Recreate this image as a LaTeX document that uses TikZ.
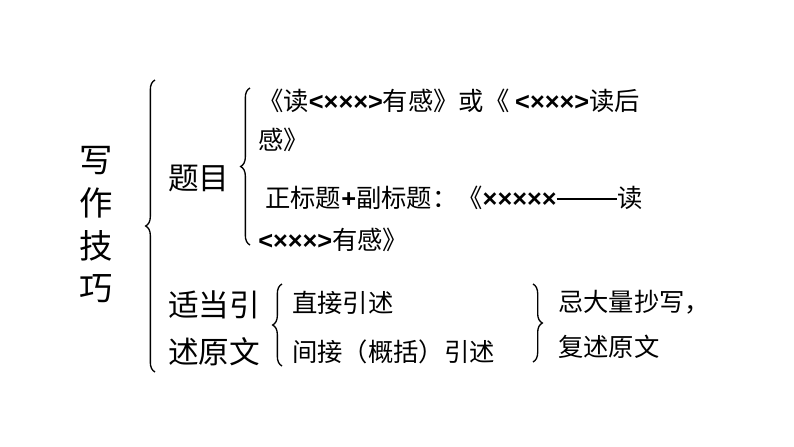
\documentclass[tikz,border=0pt]{standalone}
\usepackage{fontspec}
\setmainfont{Noto Sans CJK SC}
\newfontfamily\latf{Liberation Sans}
\newcommand{\lt}[1]{{\latf\bfseries #1}}
\usetikzlibrary{decorations.pathreplacing}
\tikzset{
    big/.style={font=\fontsize{23}{26}\selectfont, inner sep=0pt, anchor=west},
    small/.style={font=\fontsize{19}{20}\selectfont, inner sep=0pt, anchor=west},
    brc/.style={decorate, decoration={brace, amplitude=7pt}, line width=1pt}
}
\begin{document}
\begin{tikzpicture}[x=0.75pt,y=-0.75pt]
    \useasboundingbox (0,0) rectangle (794,447);
    %left title
    \node[big, align=center, anchor=center, font=\fontsize{25}{32}\selectfont] (title) at (96,225) {写\\作\\技\\巧};
    \draw[brc] (155,372) -- (155,80);
    %first branch
    \node[big] (timu) at (168,178) {题目};
    \draw[brc] (250,245) -- (250,88);
    \node[small] (t1) at (258,101) {《读\lt{<×××>}有感》或《 \lt{<×××>}读后};
    \node[small] (t2) at (258,140) {感》};
    \node[small] (t3) at (265,198) {正标题\lt{+}副标题：《\lt{×××××}\rule[0.3em]{2.4em}{1.5pt}读};
    \node[small] (t4) at (258,240) {\lt{<×××>}有感》};
    %second branch
    \node[big] (yin1) at (168,305) {适当引};
    \node[big] (yin2) at (168,352) {述原文};
    \draw[brc] (282,366) -- (282,284);
    \node[small] (z1) at (292,303) {直接引述};
    \node[small] (z2) at (292,352) {间接（概括）引述};
    \draw[brc] (533,284) -- (533,362);
    \node[small] (j1) at (558,302) {忌大量抄写，};
    \node[small] (j2) at (558,347) {复述原文};
\end{tikzpicture}
\end{document}
